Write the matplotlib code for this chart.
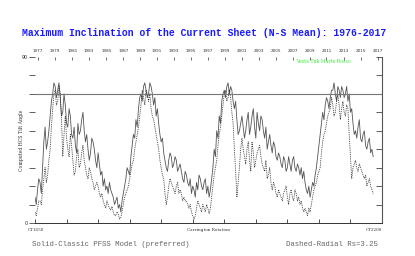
import numpy as np
import matplotlib
matplotlib.use("Agg")
import matplotlib.pyplot as plt

# Carrington rotations sampled every 2 rotations
cr_start, cr_step = 1650, 2

solid_vals = [14,10, 18,24, 22,16, 30,44, 52,40, 44,50, 58,66, 70,76, 74,68, 72,76,
              68,58, 60,70, 64,54, 52,62, 58,48, 46,52, 42,38, 54,48, 50,56, 60,50,
              44,48, 40,34, 38,46, 44,40, 34,30, 38,32, 26,28, 20,24, 18,20, 16,22,
              18,16, 14,10, 12,14, 8,10, 6,12, 16,20, 24,30, 28,26, 36,42, 48,46,
              56,52, 62,68, 70,66, 74,76, 72,68, 70,76, 74,70, 64,68, 58,62, 54,48,
              44,46, 38,34, 30,28, 34,38, 36,30, 32,36, 34,28, 30,32, 28,24, 22,28,
              26,22, 20,24, 16,20, 18,14, 22,18, 26,24, 20,18, 22,24, 16,20, 14,18,
              24,30, 40,36, 50,46, 58,54, 66,70, 72,68, 74,76, 70,74, 72,66, 62,66,
              56,48, 50,54, 58,52, 46,50, 56,60, 48,52, 58,62, 52,46, 60,54, 50,58,
              56,50, 46,52, 40,44, 48,42, 38,44, 42,36, 34,38, 36,32, 30,36, 34,28,
              30,36, 32,28, 34,36, 30,28, 32,30, 26,30, 24,28, 22,18, 16,20, 14,18,
              22,20, 26,30, 36,42, 48,54, 60,56, 64,68, 66,62, 68,72, 72,76, 70,66,
              74,72, 68,74, 72,68, 70,74, 66,70, 60,62, 54,48, 50,46, 52,56, 46,44,
              48,50, 42,40, 44,46, 38,40, 36]

dashed_vals = [6,4, 8,12, 12,10, 18,24, 30,22, 26,34, 40,52, 62,70, 72,64, 66,74,
               70,56, 36,48, 58,46, 40,36, 48,42, 34,26, 28,36, 40,30, 32,38, 42,34,
               30,26, 24,30, 28,24, 22,18, 20,22, 20,16, 14,16, 12,10, 8,12, 10,8,
               7,9, 6,4, 4,6, 5,2, 3,6, 10,14, 16,18, 20,24, 28,32, 34,40,
               44,48, 52,58, 64,72, 68,64, 72,70, 66,70, 62,58, 56,52, 48,44, 40,34,
               30,26, 24,16, 10,14, 20,24, 22,20, 18,16, 20,22, 16,18, 16,12, 14,12,
               12,10, 8,10, 6,4, 2,4, 8,12, 10,8, 6,10, 8,6, 10,8, 5,8,
               14,20, 26,30, 34,42, 48,52, 58,64, 70,72, 66,68, 72,68, 60,54, 40,28,
               14,22, 30,40, 46,40, 36,32, 40,44, 34,28, 44,38, 30,34, 38,40, 42,36,
               32,30, 28,34, 24,26, 30,22, 18,22, 20,16, 14,18, 16,14, 12,16, 18,20,
               14,10, 16,18, 14,12, 18,16, 12,14, 10,12, 8,6, 8,6, 4,8, 6,10,
               14,18, 20,22, 26,28, 30,38, 44,48, 50,54, 58,60, 62,68, 64,58, 60,66,
               70,64, 56,62, 66,60, 58,64, 62,48, 36,24, 30,32, 34,30, 28,32, 30,28,
               26,24, 26,20, 22,24, 20,18, 16]

n = min(len(solid_vals), len(dashed_vals))
solid_vals = solid_vals[:n]
dashed_vals = dashed_vals[:n]
cr = cr_start + cr_step * np.arange(n)

year_labels = ["1977", "1979", "1981", "1983", "1985", "1987", "1989", "1991",
               "1993", "1995", "1997", "1999", "2001", "2003", "2005", "2007",
               "2009", "2011", "2013", "2015", "2017"]
year_cr = [1655, 1682, 1709, 1736, 1763, 1790, 1817, 1843, 1870, 1897, 1924,
           1951, 1978, 2005, 2032, 2059, 2086, 2112, 2139, 2166, 2193]
cr_ticks = [1650, 1700, 1750, 1800, 1850, 1900, 1950, 2000, 2050, 2100, 2150, 2200]
y_ticks = [0, 10, 20, 30, 40, 50, 60, 70, 80, 90]
ref_level = 70

fig = plt.figure(figsize=(4.15, 2.56), dpi=100)
fig.patch.set_facecolor("white")
ax = fig.add_axes([35/415, 33/256, (382-35)/415, (223-57)/256])

ax.plot(cr, solid_vals, color="#555555", lw=0.6, ls="-")
ax.plot(cr, dashed_vals, color="#222222", lw=0.6, ls=(0, (1, 1.2)))
ax.axhline(ref_level, color="#777777", lw=0.8)

ax.set_xlim(1650, 2200)
ax.set_ylim(0, 90)

for s in ["left", "top"]:
    ax.spines[s].set_visible(False)
ax.spines["bottom"].set_color("#333333")
ax.spines["right"].set_color("#555555")
ax.spines["bottom"].set_linewidth(0.7)
ax.spines["right"].set_linewidth(0.8)

ax.set_xticks(cr_ticks)
ax.set_xticklabels([])
ax.tick_params(axis="x", which="major", direction="in", length=3, width=0.6,
               color="#333333", top=True, bottom=True)
ax.set_yticks(y_ticks)
ax.set_yticklabels([str(v) if v in (0, 90) else "" for v in y_ticks],
                   fontsize=3.5, color="#333333")
ax.tick_params(axis="y", which="major", direction="out", length=4, width=0.6,
               color="#444444", pad=1, left=True, right=True)
for t in ax.yaxis.get_major_ticks():
    t.tick2line.set_marker(matplotlib.lines.TICKLEFT)
    t.tick2line.set_markersize(4)

ax2 = ax.twiny()
ax2.set_xlim(1650, 2200)
for s in ax2.spines.values():
    s.set_visible(False)
ax2.set_xticks(year_cr)
ax2.set_xticklabels(year_labels, fontsize=3, color="#333333")
ax2.tick_params(axis="x", direction="in", length=2, width=0.5, color="#333333", pad=3)

ax.text(0.5, -0.045, "Carrington Rotation", transform=ax.transAxes, fontsize=3,
        ha="center", va="center", color="#333333", family="DejaVu Serif")
ax.text(-0.02, -0.045, "CT1650", transform=ax.transAxes, fontsize=3,
        ha="left", va="center", color="#333333", family="DejaVu Serif")
ax.text(1.0, -0.045, "CT2200", transform=ax.transAxes, fontsize=3,
        ha="right", va="center", color="#333333", family="DejaVu Serif")
ax.text(-0.04, 0.5, "Computed HCS Tilt Angle", transform=ax.transAxes,
        fontsize=3.3, rotation=90, ha="center", va="center", color="#333333",
        family="DejaVu Serif")
ax.text(0.83, 0.97, "Vesta Tuk Marte Rosso", transform=ax.transAxes, fontsize=3.3,
        ha="center", va="center", color="#33ee33", family="DejaVu Serif")

fig.text(204/415, 1-33/256,
         "Maximum Inclination of the Current Sheet (N-S Mean): 1976-2017",
         fontsize=7, fontweight="bold", family="Liberation Mono", color="#1a1aff",
         ha="center", va="center")
fig.text(32/415, 1-245/256, "Solid-Classic PFSS Model (preferred)",
         fontsize=5.3, family="Liberation Mono", color="#666666", ha="left", va="center")
fig.text(378/415, 1-245/256, "Dashed-Radial Rs=3.25",
         fontsize=5.3, family="Liberation Mono", color="#666666", ha="right", va="center")

fig.savefig("out.png", dpi=100, facecolor="white")
